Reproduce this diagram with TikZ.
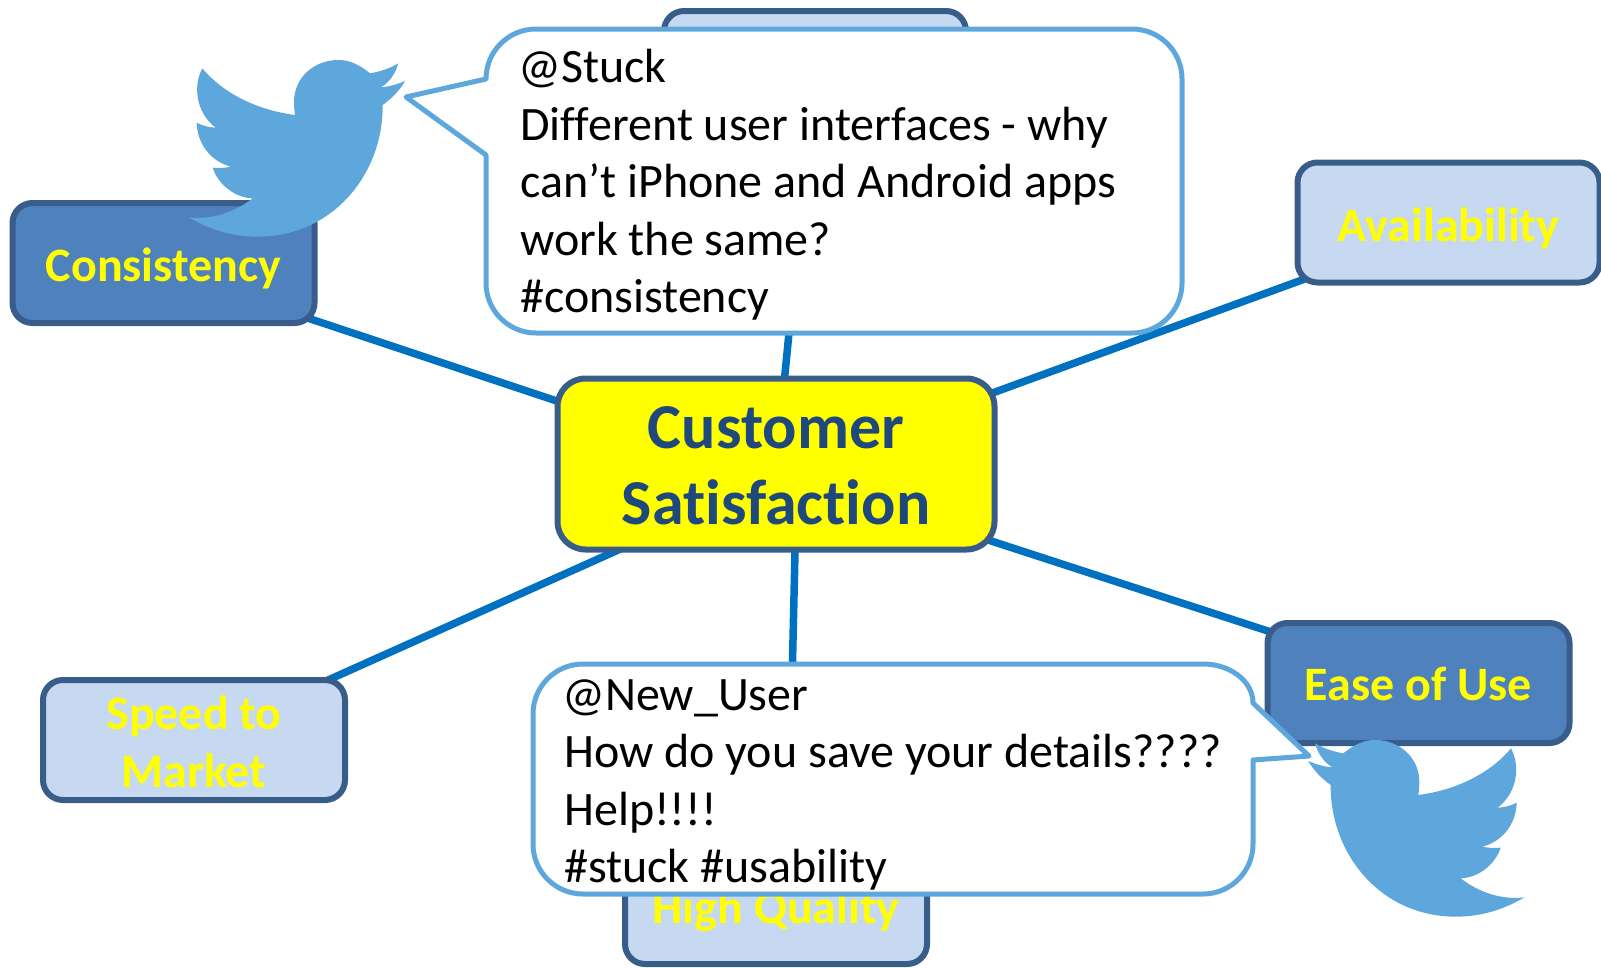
\documentclass[tikz,border=0pt]{standalone}
\usepackage{fontspec}
\setmainfont[Ligatures=NoCommon]{Carlito}
\usetikzlibrary{calc}
\definecolor{darkfill}{HTML}{4F81BD}
\definecolor{lightfill}{HTML}{C6D9F1}
\definecolor{boxline}{HTML}{385D8A}
\definecolor{linkblue}{HTML}{0070C0}
\definecolor{tweetblue}{HTML}{5DA7DC}
\definecolor{navy}{HTML}{1F497D}
\definecolor{pureyellow}{HTML}{FFFF00}
\newcommand{\lowered}[2]{\raisebox{-#1}[\height][\depth]{#2}}
\newcommand{\birdshape}{%
  \fill[tweetblue] (685,100) .. controls (660,115) and (630,125) .. (600,130)
    .. controls (570,105) and (540,90) .. (505,90)
    .. controls (430,90) and (372,145) .. (372,215)
    .. controls (372,230) and (373,242) .. (375,255)
    .. controls (260,240) and (160,190) .. (97,115)
    .. controls (70,165) and (75,245) .. (137,293)
    .. controls (115,292) and (97,287) .. (80,278)
    .. controls (82,345) and (125,395) .. (183,410)
    .. controls (165,414) and (145,415) .. (128,413)
    .. controls (145,465) and (195,503) .. (248,505)
    .. controls (190,550) and (120,570) .. (57,562)
    .. controls (120,600) and (190,620) .. (262,620)
    .. controls (490,620) and (640,430) .. (638,225)
    .. controls (668,203) and (690,180) .. (705,153)
    .. controls (682,163) and (658,170) .. (633,172)
    .. controls (658,157) and (677,130) .. (685,100) -- cycle;}
\tikzset{
  box/.style={draw=boxline,line width=6pt,rounded corners=20pt,minimum width=302pt,minimum height=120pt,
    inner sep=0pt,align=center,text=pureyellow,font=\fontsize{48}{57.8}\selectfont\bfseries},
  darkbox/.style={box,fill=darkfill},
  lightbox/.style={box,fill=lightfill},
  hub/.style={draw=boxline,line width=6pt,rounded corners=28pt,fill=pureyellow,minimum width=437pt,minimum height=171pt,
    inner sep=0pt,align=center,text=navy,font=\fontsize{64}{76}\selectfont\bfseries},
  link/.style={draw=linkblue,line width=7.5pt},
  bubble/.style={draw=tweetblue,line width=5pt,fill=white,line join=round},
  bubbletext/.style={inner sep=0pt,align=left,anchor=north west,text=black,font=\fontsize{48}{57.5}\selectfont},
}
\begin{document}
\begin{tikzpicture}[x=1pt,y=-1pt]
\useasboundingbox (0,0) rectangle (1601,967);
\path (776,464) coordinate (satc) (163.5,263) coordinate (consc) (1448.5,222.5) coordinate (availc)
      (1418.5,683) coordinate (easec) (194,740) coordinate (speedc) (776,904) coordinate (hqc) (815,71) coordinate (topc);
\draw[link] ($(satc)+(0,10)$) -- ($(consc)+(0,7)$);
\draw[link] (satc) -- (topc);
\draw[link] ($(satc)+(0,8)$) -- ($(availc)+(0,4)$);
\draw[link] ($(satc)+(0,7)$) -- ($(easec)+(0,-3)$);
\draw[link] ($(satc)+(5,13)$) -- ($(speedc)+(7,-3)$);
\draw[link] ($(satc)+(21,0)$) -- ($(hqc)+(11,0)$);
\node[lightbox] (top) at (topc) {};
\node[lightbox] (avail) at (availc) {\lowered{5.5pt}{Availability}};
\node[lightbox] (speed) at (speedc) {\lowered{2pt}{Speed to}\\\lowered{2pt}{Market}};
\node[lightbox] (hq) at (hqc) {\lowered{6.5pt}{High Quality}};
\node[darkbox] (ease) at (easec) {\lowered{1pt}{Ease of Use}};
\node[darkbox] (cons) at (consc) {\lowered{5.5pt}{Consistency}};
\node[hub] (sat) at (satc) {\lowered{1.5pt}{Customer}\\\lowered{1.5pt}{Satisfaction}};
\begin{scope}[shift={(170,30)},xscale=1/3,yscale=1/3]\birdshape\end{scope}
\begin{scope}[shift={(1543.33,710)},xscale=-1/3,yscale=1/3]\birdshape\end{scope}
\draw[bubble] (536,29) -- (1132,29) arc[start angle=-90,end angle=0,radius=50]
  -- (1182,283) arc[start angle=0,end angle=90,radius=50]
  -- (536,333) arc[start angle=90,end angle=180,radius=50]
  -- (486,155) -- (406,97) -- (486,79) arc[start angle=180,end angle=270,radius=50] -- cycle;
\draw[bubble] (583,664) -- (1203,664) arc[start angle=-90,end angle=0,x radius=50,y radius=39] -- (1309,756) -- (1253,760)
  -- (1253,844) arc[start angle=0,end angle=90,radius=50]
  -- (583,894) arc[start angle=90,end angle=180,radius=50]
  -- (533,714) arc[start angle=180,end angle=270,radius=50] -- cycle;
\node[bubbletext] (t1) at (520,49) {\hspace*{-2pt}@Stuck\\Different user interfaces - why\\can’t iPhone and Android apps\\work the same?\\\#consistency};
\node[bubbletext] (t2) at (564,679) {\hspace*{-2pt}@New\_User\\How do you save your details????\\Help!!!!\\\#stuck \#usability};
\end{tikzpicture}
\end{document}
